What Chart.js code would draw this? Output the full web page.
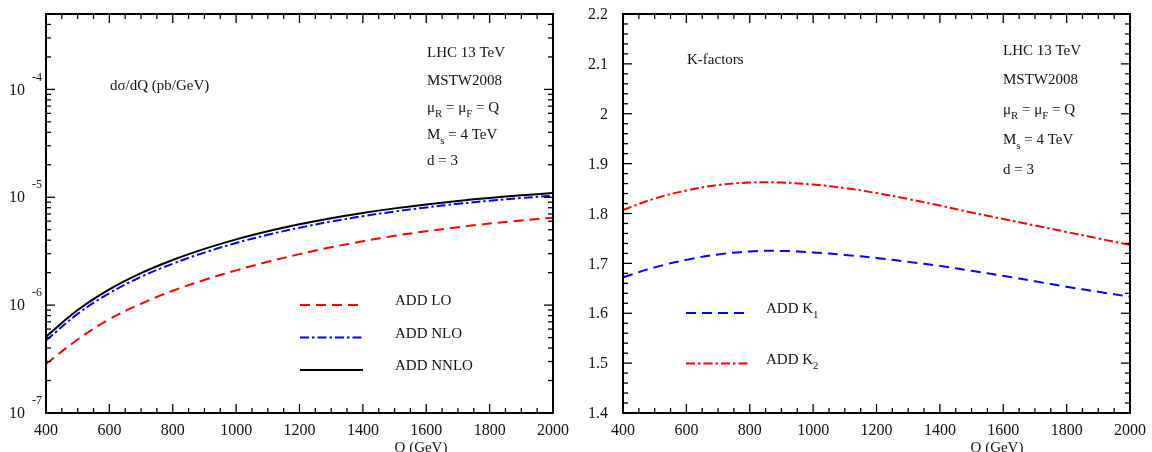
<!DOCTYPE html>
<html>
<head>
<meta charset="utf-8">
<script src="https://cdn.jsdelivr.net/npm/chart.js@4"></script>
<style>
  html, body { margin: 0; padding: 0; background: #fff; }
  #wrap { position: relative; width: 1152px; height: 452px; overflow: hidden; }
  canvas { position: absolute; top: 0; }
</style>
</head>
<body>
<div id="wrap">
  <canvas id="chart--xsec" width="576" height="452" style="left:0"></canvas>
  <canvas id="chart--kfac" width="576" height="452" style="left:576px"></canvas>
</div>
<script>
// Q values (GeV)
const q_vals = [400, 500, 600, 700, 800, 900, 1000, 1100, 1200, 1300, 1400, 1500, 1600, 1700, 1800, 1900, 2000];

// dsigma/dQ (pb/GeV)
const add_lo = [2.85e-7, 4.8e-7, 7.4e-7, 1.03e-6, 1.36e-6, 1.71e-6, 2.10e-6, 2.52e-6, 2.97e-6, 3.44e-6, 3.91e-6, 4.39e-6, 4.84e-6, 5.28e-6, 5.70e-6, 6.10e-6, 6.46e-6];
const add_nlo = [4.7e-7, 8.3e-7, 1.29e-6, 1.83e-6, 2.42e-6, 3.07e-6, 3.77e-6, 4.49e-6, 5.22e-6, 5.96e-6, 6.68e-6, 7.38e-6, 8.05e-6, 8.69e-6, 9.28e-6, 9.83e-6, 1.034e-5];
const add_nnlo = [5.1e-7, 9.0e-7, 1.40e-6, 1.98e-6, 2.62e-6, 3.32e-6, 4.07e-6, 4.84e-6, 5.62e-6, 6.40e-6, 7.16e-6, 7.89e-6, 8.59e-6, 9.25e-6, 9.86e-6, 1.042e-5, 1.094e-5];

// K-factors
const add_k1 = [1.672, 1.692, 1.707, 1.718, 1.724, 1.725, 1.722, 1.717, 1.711, 1.703, 1.695, 1.685, 1.675, 1.664, 1.653, 1.643, 1.633];
const add_k2 = [1.807, 1.830, 1.846, 1.857, 1.862, 1.862, 1.858, 1.851, 1.841, 1.829, 1.816, 1.802, 1.789, 1.776, 1.763, 1.750, 1.737];

// tick labels
const x_ticks = [400, 600, 800, 1000, 1200, 1400, 1600, 1800, 2000];
const log_exps = [-7, -6, -5, -4];
const k_ticks = ['1.4', '1.5', '1.6', '1.7', '1.8', '1.9', '2', '2.1', '2.2'];

const info_lines = [
    [{t: 'LHC 13 TeV'}],
    [{t: 'MSTW2008'}],
    [{t: 'μ'}, {t: 'R', sub: true}, {t: ' = μ'}, {t: 'F', sub: true}, {t: ' = Q'}],
    [{t: 'M'}, {t: 's', sub: true}, {t: ' = 4 TeV'}],
    [{t: 'd = 3'}]
];

const SERIF = '"Liberation Serif", "Times New Roman", serif';
const DASH = [10, 6];
const DASHDOT = [9, 3, 2.5, 3];

function pts(ys) {
    return q_vals.map((q, i) => ({x: q, y: ys[i]}));
}

function drawRuns(ctx, runs, x, y, size) {
    let cx = x;
    runs.forEach(r => {
        const s = r.sub ? size * 0.72 : size;
        ctx.font = s + 'px ' + SERIF;
        ctx.fillText(r.t, cx, y + (r.sub ? size * 0.3 : 0));
        cx += ctx.measureText(r.t).width;
    });
}

function drawTick(ctx, x1, y1, x2, y2) {
    ctx.beginPath();
    ctx.moveTo(x1, y1);
    ctx.lineTo(x2, y2);
    ctx.stroke();
}

function drawFrameAndX(chart, xTitleX) {
    const ctx = chart.ctx;
    const a = chart.chartArea;
    const xs = chart.scales.x;
    ctx.save();
    ctx.strokeStyle = '#000';
    ctx.fillStyle = '#111';
    ctx.setLineDash([]);
    ctx.lineWidth = 1.3;
    for (let q = 400; q <= 2000; q += 50) {
        const px = xs.getPixelForValue(q);
        const len = q % 200 === 0 ? 9 : 5;
        drawTick(ctx, px, a.bottom, px, a.bottom - len);
        drawTick(ctx, px, a.top, px, a.top + len);
    }
    ctx.lineWidth = 2;
    ctx.strokeRect(a.left, a.top, a.right - a.left, a.bottom - a.top);
    ctx.font = '16px ' + SERIF;
    ctx.textAlign = 'center';
    ctx.textBaseline = 'alphabetic';
    x_ticks.forEach(q => ctx.fillText(String(q), xs.getPixelForValue(q), 435));
    ctx.font = '15px ' + SERIF;
    ctx.fillText('Q (GeV)', xTitleX, 452);
    ctx.restore();
}

function drawLegendLine(ctx, x1, x2, y, color, dash) {
    ctx.save();
    ctx.strokeStyle = color;
    ctx.lineWidth = 2;
    ctx.setLineDash(dash);
    drawTick(ctx, x1, y, x2, y);
    ctx.restore();
}

const xsecDecor = {
    id: 'xsecDecor',
    afterDraw(chart) {
        const ctx = chart.ctx;
        const a = chart.chartArea;
        const ys = chart.scales.y;
        drawFrameAndX(chart, 421);
        ctx.save();
        ctx.strokeStyle = '#000';
        ctx.lineWidth = 1.3;
        for (let e = -7; e <= -4; e++) {
            for (let k = 1; k <= 9; k++) {
                const v = k * Math.pow(10, e);
                if (v > ys.max * 1.0001) continue;
                const py = ys.getPixelForValue(v);
                const len = k === 1 ? 9 : 5;
                drawTick(ctx, a.left, py, a.left + len, py);
                drawTick(ctx, a.right, py, a.right - len, py);
            }
        }
        ctx.fillStyle = '#111';
        ctx.textBaseline = 'middle';
        log_exps.forEach(e => {
            const py = ys.getPixelForValue(Math.pow(10, e));
            ctx.font = '16px ' + SERIF;
            ctx.textAlign = 'right';
            ctx.fillText('10', 25, py + 1);
            ctx.font = '12px ' + SERIF;
            ctx.textAlign = 'left';
            ctx.fillText(String(e), 32, py - 12);
        });
        ctx.textBaseline = 'alphabetic';
        ctx.textAlign = 'left';
        ctx.font = '15px ' + SERIF;
        ctx.fillText('dσ/dQ (pb/GeV)', 110, 90);
        const base = [57, 85, 112, 139, 165];
        info_lines.forEach((ln, i) => drawRuns(ctx, ln, 427, base[i], 15));
        // legend
        drawLegendLine(ctx, 300, 363, 305, 'rgb(255,0,0)', DASH);
        drawLegendLine(ctx, 300, 363, 337.5, 'rgb(0,0,255)', DASHDOT);
        drawLegendLine(ctx, 300, 363, 370, '#000', []);
        ctx.font = '15px ' + SERIF;
        ctx.fillText('ADD LO', 395, 305);
        ctx.fillText('ADD NLO', 395, 338);
        ctx.fillText('ADD NNLO', 395, 370);
        ctx.restore();
    }
};

const kfacDecor = {
    id: 'kfacDecor',
    afterDraw(chart) {
        const ctx = chart.ctx;
        const a = chart.chartArea;
        const ys = chart.scales.y;
        drawFrameAndX(chart, 997 - 576);
        ctx.save();
        ctx.strokeStyle = '#000';
        ctx.lineWidth = 1.3;
        for (let i = 0; i <= 40; i++) {
            const v = 1.4 + i * 0.02;
            const py = ys.getPixelForValue(v);
            const len = i % 5 === 0 ? 9 : 5;
            drawTick(ctx, a.left, py, a.left + len, py);
            drawTick(ctx, a.right, py, a.right - len, py);
        }
        ctx.fillStyle = '#111';
        ctx.font = '16px ' + SERIF;
        ctx.textAlign = 'right';
        ctx.textBaseline = 'middle';
        k_ticks.forEach(t => ctx.fillText(t, 608 - 576, ys.getPixelForValue(parseFloat(t)) + 1));
        ctx.textAlign = 'left';
        ctx.textBaseline = 'alphabetic';
        ctx.font = '15px ' + SERIF;
        ctx.fillText('K-factors', 687 - 576, 64);
        const base = [55, 84, 114, 144, 174];
        info_lines.forEach((ln, i) => drawRuns(ctx, ln, 1003 - 576, base[i], 15));
        // legend
        drawLegendLine(ctx, 686 - 576, 750 - 576, 313, 'rgb(0,0,255)', DASH);
        drawLegendLine(ctx, 686 - 576, 750 - 576, 363.5, 'rgb(255,0,0)', DASHDOT);
        drawRuns(ctx, [{t: 'ADD K'}, {t: '1', sub: true}], 766 - 576, 313, 15);
        drawRuns(ctx, [{t: 'ADD K'}, {t: '2', sub: true}], 766 - 576, 364, 15);
        ctx.restore();
    }
};

function lineSet(label, ys, color, dash) {
    return {
        label: label,
        data: pts(ys),
        borderColor: color,
        backgroundColor: color,
        borderWidth: 2,
        borderDash: dash,
        pointRadius: 0,
        fill: false,
        tension: 0.4
    };
}

const baseOptions = (padding, yScale) => ({
    responsive: false,
    animation: false,
    events: [],
    layout: {padding: padding},
    plugins: {legend: {display: false}, tooltip: {enabled: false}},
    scales: {
        x: {type: 'linear', min: 400, max: 2000, display: false},
        y: yScale
    }
});

const config_xsec = {
    type: 'line',
    data: {
        datasets: [
            lineSet('ADD NNLO', add_nnlo, '#000', []),
            lineSet('ADD NLO', add_nlo, 'rgb(0,0,255)', DASHDOT),
            lineSet('ADD LO', add_lo, 'rgb(255,0,0)', DASH)
        ]
    },
    options: baseOptions({left: 46, right: 23, top: 14, bottom: 39},
        {type: 'logarithmic', min: 1e-7, max: 5e-4, display: false}),
    plugins: [xsecDecor]
};

const config_kfac = {
    type: 'line',
    data: {
        datasets: [
            lineSet('ADD K1', add_k1, 'rgb(0,0,255)', DASH),
            lineSet('ADD K2', add_k2, 'rgb(255,0,0)', DASHDOT)
        ]
    },
    options: baseOptions({left: 47, right: 22, top: 14, bottom: 39},
        {type: 'linear', min: 1.4, max: 2.2, display: false}),
    plugins: [kfacDecor]
};

var chartXsec = new Chart(document.getElementById('chart--xsec'), config_xsec);
var chartKfac = new Chart(document.getElementById('chart--kfac'), config_kfac);
</script>
</body>
</html>
